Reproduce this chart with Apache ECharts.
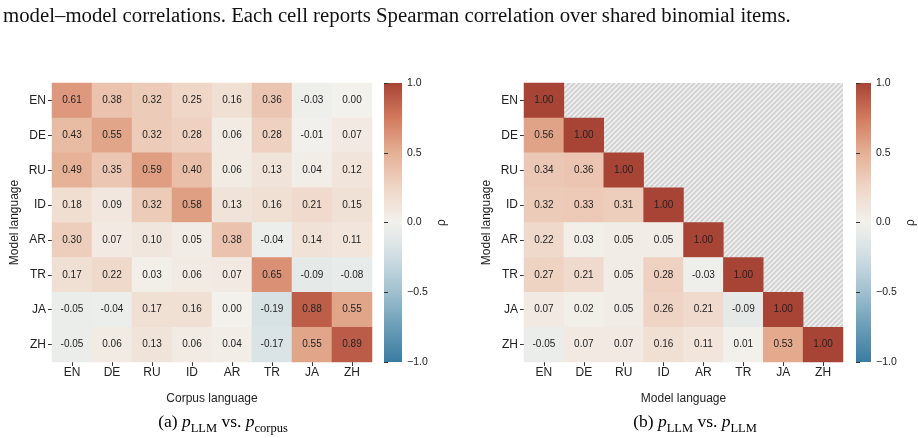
<!DOCTYPE html>
<html>
<head>
<meta charset="utf-8">
<script src="https://cdn.jsdelivr.net/npm/echarts@6/dist/echarts.min.js"></script>
<style>
html,body{margin:0;padding:0;background:#fff;}
#main{width:918px;height:438px;}
</style>
</head>
<body>
<div id="main"></div>
<script>
// ---- data ----
const langs = ['EN','DE','RU','ID','AR','TR','JA','ZH'];
const corpusRows = [
  [0.61, 0.38, 0.32, 0.25, 0.16, 0.36, -0.03, 0.00],
  [0.43, 0.55, 0.32, 0.28, 0.06, 0.28, -0.01, 0.07],
  [0.49, 0.35, 0.59, 0.40, 0.06, 0.13, 0.04, 0.12],
  [0.18, 0.09, 0.32, 0.58, 0.13, 0.16, 0.21, 0.15],
  [0.30, 0.07, 0.10, 0.05, 0.38, -0.04, 0.14, 0.11],
  [0.17, 0.22, 0.03, 0.06, 0.07, 0.65, -0.09, -0.08],
  [-0.05, -0.04, 0.17, 0.16, 0.00, -0.19, 0.88, 0.55],
  [-0.05, 0.06, 0.13, 0.06, 0.04, -0.17, 0.55, 0.89]
];
const modelRows = [
  [1.00],
  [0.56, 1.00],
  [0.34, 0.36, 1.00],
  [0.32, 0.33, 0.31, 1.00],
  [0.22, 0.03, 0.05, 0.05, 1.00],
  [0.27, 0.21, 0.05, 0.28, -0.03, 1.00],
  [0.07, 0.02, 0.05, 0.26, 0.21, -0.09, 1.00],
  [-0.05, 0.07, 0.07, 0.16, 0.11, 0.01, 0.53, 1.00]
];
const cbarTicks = [-1, -0.5, 0, 0.5, 1];
const palette = ['#3b7ca1','#6a9db7','#a0c0cf','#cfdde3','#f2f1ec','#efd6c7','#e5b095','#d37a5e','#a84436'];

// ---- build ----
function toCells(rows){
  const out = [];
  rows.forEach((r, yi) => r.forEach((v, xi) => out.push([xi, yi, v])));
  return out;
}
const T = 5;
const hatch = document.createElement('canvas');
hatch.width = T; hatch.height = T;
(function(){
  const c = hatch.getContext('2d');
  c.fillStyle = '#d3d3d3'; c.fillRect(0,0,T,T);
  c.strokeStyle = '#f4f4f4'; c.lineWidth = 1.3;
  c.beginPath();
  c.moveTo(-1,T+1); c.lineTo(T+1,-1);
  c.moveTo(-1,1); c.lineTo(1,-1);
  c.moveTo(T-1,T+1); c.lineTo(T+1,T-1);
  c.stroke();
})();

const sans = 'Liberation Sans, Arial, sans-serif';
const serif = 'Liberation Serif, Times New Roman, serif';
const fmtCb = v => (v < 0 ? '\u2212' : '') + Math.abs(v).toFixed(1);

function catAxisX(gi, name){
  return {
    type:'category', gridIndex:gi, data:langs, position:'bottom',
    axisLine:{show:false}, splitLine:{show:false},
    axisTick:{show:true, alignWithLabel:true, length:4, lineStyle:{color:'#333', width:1}},
    axisLabel:{fontFamily:sans, fontSize:12, color:'#222', margin:5},
    name:name, nameLocation:'middle', nameGap:31,
    nameTextStyle:{fontFamily:sans, fontSize:12, color:'#222'}
  };
}
function catAxisY(gi){
  return {
    type:'category', gridIndex:gi, data:langs, inverse:true,
    axisLine:{show:false}, splitLine:{show:false},
    axisTick:{show:true, alignWithLabel:true, length:4, lineStyle:{color:'#333', width:1}},
    axisLabel:{fontFamily:sans, fontSize:12, color:'#222', margin:6},
    name:'Model language', nameLocation:'middle', nameGap:31,
    nameTextStyle:{fontFamily:sans, fontSize:12, color:'#222'}
  };
}
function cbarY(gi){
  return {
    type:'value', gridIndex:gi, min:-1, max:1, interval:0.5, position:'right',
    axisLine:{show:false}, splitLine:{show:false},
    axisTick:{show:true, length:4, lineStyle:{color:'#333'}},
    axisLabel:{fontFamily:sans, fontSize:10.5, color:'#222', margin:5,
      formatter: v => cbarTicks.indexOf(v) >= 0 ? fmtCb(v) : ''},
    name:'\u03c1', nameLocation:'middle', nameGap:34, nameRotate:90,
    nameTextStyle:{fontFamily:sans, fontSize:12, color:'#222'}
  };
}
const cbGrad = new echarts.graphic.LinearGradient(0,0,0,1,
  palette.slice().reverse().map((c,i) => ({offset:i/(palette.length-1), color:c})));

const cellLabel = {show:true, fontFamily:sans, fontSize:10, color:'#222',
  formatter: p => p.value[2].toFixed(2)};

const subRich = {
  n:{fontFamily:serif, fontSize:17.5, color:'#111', padding:[0,0,4,0], verticalAlign:'bottom'},
  i:{fontFamily:serif, fontSize:17.5, fontStyle:'italic', color:'#111', padding:[0,0,4,0], verticalAlign:'bottom'},
  s:{fontFamily:serif, fontSize:12.5, color:'#111', verticalAlign:'bottom'}
};

const option = {
  animation:false,
  backgroundColor:'#fff',
  grid:[
    {left:52, top:83, width:320, height:279},
    {left:524, top:83, width:319, height:279, show:true, borderWidth:0, backgroundColor:{image:hatch, repeat:'repeat'}},
    {left:384, top:83, width:18, height:279, show:true, borderWidth:0, backgroundColor:cbGrad},
    {left:856, top:83, width:18, height:279, show:true, borderWidth:0, backgroundColor:cbGrad}
  ],
  xAxis:[
    catAxisX(0,'Corpus language'),
    catAxisX(1,'Model language'),
    {type:'value', gridIndex:2, show:false},
    {type:'value', gridIndex:3, show:false}
  ],
  yAxis:[catAxisY(0), catAxisY(1), cbarY(2), cbarY(3)],
  visualMap:{type:'continuous', show:false, min:-1, max:1, dimension:2, seriesIndex:[0,1],
    inRange:{color:palette}},
  series:[
    {type:'heatmap', xAxisIndex:0, yAxisIndex:0, data:toCells(corpusRows), label:cellLabel,
     emphasis:{disabled:true}},
    {type:'heatmap', xAxisIndex:1, yAxisIndex:1, data:toCells(modelRows), label:cellLabel,
     emphasis:{disabled:true}}
  ],
  graphic:[
    {type:'text', left:3, top:6, style:{text:'model\u2013model correlations. Each cell reports Spearman correlation over shared binomial items.',
      fontFamily:serif, fontSize:20.8, fill:'#111'}},
    {type:'text', x:223, y:424, style:{text:'{n|(a) }{i|p}{s|LLM}{n| vs. }{i|p}{s|corpus}', rich:subRich,
      align:'center', verticalAlign:'middle'}},
    {type:'text', x:695, y:424, style:{text:'{n|(b) }{i|p}{s|LLM}{n| vs. }{i|p}{s|LLM}', rich:subRich,
      align:'center', verticalAlign:'middle'}}
  ]
};
const chart = echarts.init(document.getElementById('main'), null, {renderer:'canvas'});
chart.setOption(option);
</script>
</body>
</html>
